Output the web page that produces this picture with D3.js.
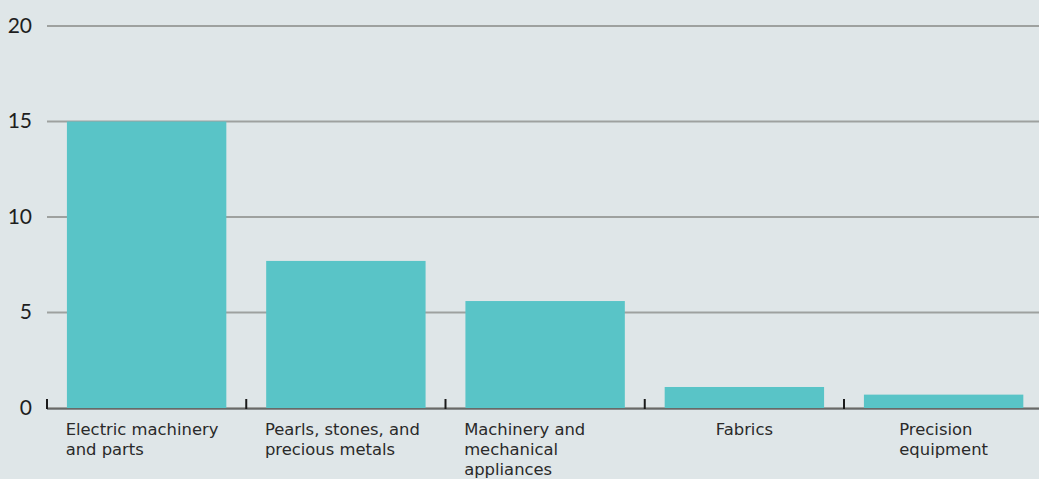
<!DOCTYPE html>
<html><head><meta charset="utf-8">
<script src="https://cdn.jsdelivr.net/npm/d3@7"></script>
<style>
html,body{margin:0;padding:0;background:#dfe6e8;}
svg{display:block;}
text{font-family:"DejaVu Sans",sans-serif;fill:#2a2a2a;}
</style></head>
<body>
<svg id="chart" width="1039" height="479"></svg>
<script>
const categories = ["Electric machinery and parts", "Pearls, stones, and precious metals", "Machinery and mechanical appliances", "Fabrics", "Precision\nequipment"];
const values = [15.0, 7.7, 5.6, 1.1, 0.7];
const yTicks = [0, 5, 10, 15, 20];

const W = 1039, H = 479;
const m = {left: 47, top: 26, bottom: 408};
const svg = d3.select("#chart");

const x = d3.scaleBand().domain(categories).range([m.left, m.left + 5 * 199.25]).paddingInner(0.2).paddingOuter(0.1);
const y = d3.scaleLinear().domain([0, 20]).range([m.bottom, m.top]);

// gridlines
svg.append("g").selectAll("line").data(yTicks).join("line")
  .attr("x1", m.left).attr("x2", W)
  .attr("y1", d => y(d)).attr("y2", d => y(d))
  .attr("stroke", "#9ea19f").attr("stroke-width", 2);

// y tick labels
svg.append("g").selectAll("text").data(yTicks).join("text")
  .attr("x", 32).attr("y", d => y(d) - 2)
  .attr("text-anchor", "end").attr("dominant-baseline", "central")
  .style("font-size", "21px").style("font-family", "Lato, sans-serif").style("fill", "#1e1e1e")
  .text(d => d);

// bars
svg.append("g").selectAll("rect").data(values).join("rect")
  .attr("x", (d, i) => x(categories[i]))
  .attr("width", x.bandwidth())
  .attr("y", d => y(d))
  .attr("height", d => y(0) - y(d))
  .attr("fill", "#59c4c7");

// baseline
svg.append("line").attr("x1", m.left).attr("x2", W).attr("y1", y(0) + 1).attr("y2", y(0) + 1)
  .attr("stroke", "#333").attr("stroke-width", 1.2);

// ticks at band boundaries
const step = x.step();
svg.append("g").selectAll("line").data(categories).join("line")
  .attr("x1", d => x(d) - step * 0.1).attr("x2", d => x(d) - step * 0.1)
  .attr("y1", y(0) - 9).attr("y2", y(0) + 1)
  .attr("stroke", "#1a1a1a").attr("stroke-width", 2);

// category labels (CSS-like wrapping)
const wrapW = 162, lh = 20, fs = 16.4;
const lg = svg.append("g");
categories.forEach((c, i) => {
  const t = lg.append("text").style("font-size", fs + "px");
  const paras = c.split("\n");
  const lines = [];
  let wrapped = false;
  const meas = lg.append("text").style("font-size", fs + "px");
  const widthOf = s => { meas.text(s); return meas.node().getComputedTextLength(); };
  paras.forEach(p => {
    const words = p.split(" ");
    let cur = "";
    words.forEach(w => {
      const test = cur ? cur + " " + w : w;
      if (cur && widthOf(test) > wrapW) { lines.push(cur); cur = w; wrapped = true; }
      else cur = test;
    });
    lines.push(cur);
  });
  const maxW = d3.max(lines, widthOf);
  meas.remove();
  const blockW = wrapped ? wrapW : maxW;
  const cx = x(c) + x.bandwidth() / 2;
  const left = cx - blockW / 2;
  lines.forEach((ln, j) => {
    t.append("tspan").attr("x", left).attr("y", 435 + j * lh).text(ln);
  });
});
</script>
</body></html>
